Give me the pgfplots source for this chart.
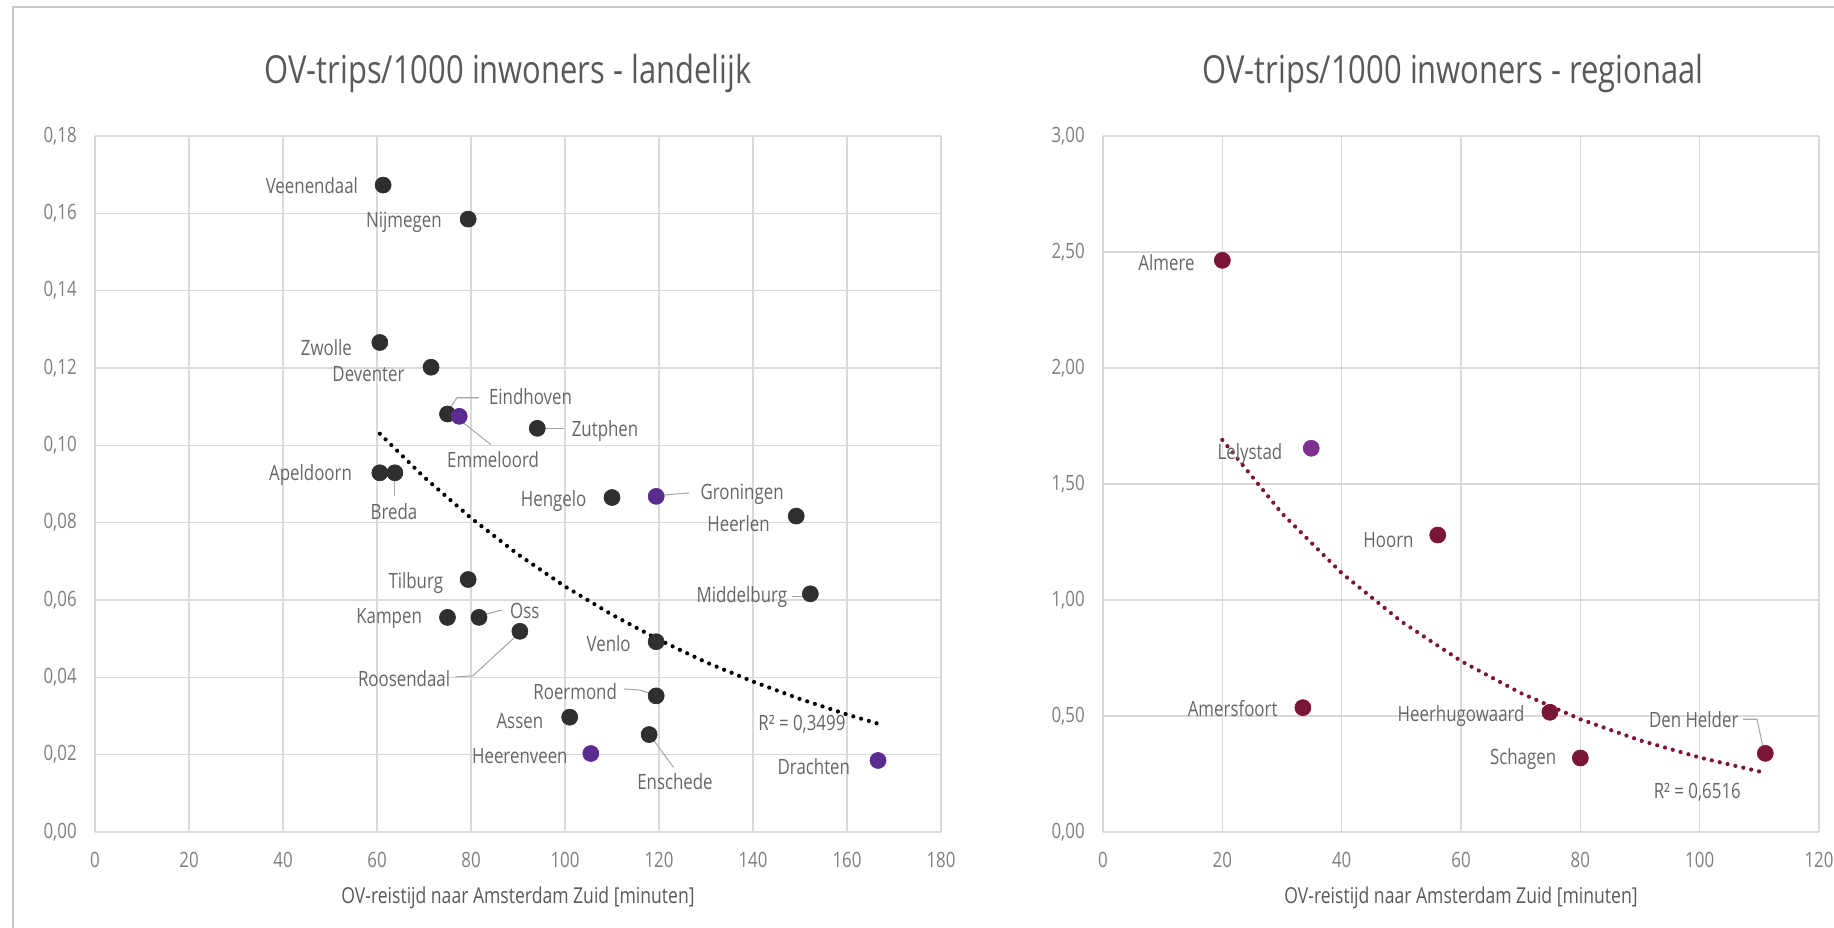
\documentclass[border=0pt]{standalone}
\usepackage{pgfplots}
\pgfplotsset{compat=1.18}
\usepackage{fontspec}
\setmainfont{Open Sans}[FakeStretch=0.8]

\definecolor{txt}{HTML}{595959}
\definecolor{lbltxt}{HTML}{666666}
\definecolor{tick}{HTML}{7F7F7F}
\definecolor{gridc}{HTML}{D9D9D9}
\definecolor{dot}{HTML}{2F2F2F}
\definecolor{paars}{HTML}{5B2C8F}
\definecolor{bord}{HTML}{7B1535}
\definecolor{lila}{HTML}{7E3090}
\definecolor{lead}{HTML}{A6A6A6}

\tikzset{
  lbl/.style={font=\fontsize{12}{14}\selectfont, text=lbltxt, inner sep=1pt},
  leader/.style={draw=lead, line width=0.6pt},
  trend/.style={line width=2.4pt, dash pattern=on 0pt off 4.6pt, line cap=round},
}

\pgfplotsset{
  ovstyle/.style={
    scale only axis, height=13.92cm,
    anchor=south west,
    axis line style={draw=none},
    major tick length=0pt,
    grid=major,
    major grid style={gridc, line width=0.9pt},
    scaled y ticks=false,
    clip=false,
    /pgf/number format/assume math mode=true,
    ticklabel style={font=\fontsize{12}{14}\selectfont, text=tick},
    xticklabel style={anchor=center, yshift=-0.56cm},
    yticklabel style={anchor=east, inner sep=0pt, xshift=-0.36cm,
      /pgf/number format/.cd, fixed, fixed zerofill, precision=2, use comma},
    title style={at={(0.5,1)}, anchor=base, yshift=0.84cm,
      font=\fontsize{22}{26}\selectfont, text=txt},
    xlabel style={at={(0.5,0)}, anchor=center, yshift=-1.32cm,
      font=\fontsize{12.5}{15}\selectfont, text=txt},
  },
}

\begin{document}
\begin{tikzpicture}
\path[use as bounding box] (0,0) rectangle (36.68,18.56);
\draw[gridc!80!gray, line width=0.8pt] (0.26,0) -- (0.26,18.42) -- (36.68,18.42);

% landelijk
\begin{axis}[ovstyle,
  at={(1.90cm,1.92cm)}, width=16.92cm,
  xmin=0, xmax=180, ymin=0, ymax=0.18,
  xtick={0,20,40,60,80,100,120,140,160,180},
  ytick={0,0.02,0.04,0.06,0.08,0.10,0.12,0.14,0.16,0.18},
  title={OV-trips/1000 inwoners - landelijk},
  xlabel={OV-reistijd naar Amsterdam Zuid [minuten]},
  title style={xshift=-0.2cm},
]
% trendlijn (exponentieel)
\addplot[trend, black] coordinates {
  (60.6,0.1030) (70,0.0918) (80,0.0812) (90,0.0718) (100,0.0635)
  (110,0.0562) (120,0.0497) (130,0.0439) (140,0.0389) (150,0.0344)
  (160,0.0304) (166.6,0.0280)};
% steden
\addplot[only marks, mark=*, mark size=0.16cm, dot, mark options={fill=dot, draw=dot}]
coordinates {
  (61.3,0.1673) (79.4,0.1585) (60.6,0.1266) (71.5,0.1202) (75.0,0.1081)
  (94.1,0.1044) (60.6,0.0929) (63.8,0.0929) (110.0,0.0865) (149.2,0.0817)
  (79.4,0.0653) (152.2,0.0616) (75.0,0.0555) (81.7,0.0555) (90.4,0.0519)
  (119.4,0.0492) (119.4,0.0352) (101.0,0.0297) (117.9,0.0252)};
\addplot[only marks, mark=*, mark size=0.16cm, paars, mark options={fill=paars, draw=paars}]
coordinates {(77.5,0.1075) (119.4,0.0868) (105.5,0.0203) (166.6,0.0185)};

\draw[leader] (axis cs:75.5,0.1096) -- (axis cs:77,0.1123) -- (axis cs:81.7,0.1123);
\draw[leader] (axis cs:78,0.1062) -- (axis cs:84.2,0.1002);
\draw[leader] (axis cs:95.6,0.1044) -- (axis cs:99.8,0.1044);
\draw[leader] (axis cs:63.8,0.0920) -- (axis cs:63.8,0.0868);
\draw[leader] (axis cs:120.7,0.0871) -- (axis cs:126.4,0.0877);
\draw[leader] (axis cs:148.2,0.0610) -- (axis cs:150.7,0.0610);
\draw[leader] (axis cs:82.4,0.0561) -- (axis cs:86.6,0.0574);
\draw[leader] (axis cs:76.7,0.0401) -- (axis cs:80.4,0.0404) -- (axis cs:89.6,0.0507);
\draw[leader] (axis cs:112.5,0.0370) -- (axis cs:116,0.0367) -- (axis cs:118.2,0.0358);
\draw[leader] (axis cs:118.7,0.0240) -- (axis cs:123.1,0.0167);

\node[lbl, anchor=east] at (axis cs:56.4,0.1673) {Veenendaal};
\node[lbl, anchor=east] at (axis cs:74.2,0.1578) {Nijmegen};
\node[lbl, anchor=east] at (axis cs:55.1,0.1253) {Zwolle};
\node[lbl, anchor=east] at (axis cs:66.3,0.1184) {Deventer};
\node[lbl, anchor=west] at (axis cs:83.4,0.1126) {Eindhoven};
\node[lbl] at (axis cs:84.7,0.0962) {Emmeloord};
\node[lbl, anchor=west] at (axis cs:101,0.1038) {Zutphen};
\node[lbl, anchor=east] at (axis cs:55.1,0.0923) {Apeldoorn};
\node[lbl] at (axis cs:63.6,0.0829) {Breda};
\node[lbl, anchor=east] at (axis cs:105,0.0856) {Hengelo};
\node[lbl, anchor=west] at (axis cs:128.4,0.0874) {Groningen};
\node[lbl, anchor=east] at (axis cs:144,0.0798) {Heerlen};
\node[lbl, anchor=east] at (axis cs:74.5,0.0643) {Tilburg};
\node[lbl, anchor=east] at (axis cs:147.7,0.0607) {Middelburg};
\node[lbl, anchor=east] at (axis cs:70,0.0552) {Kampen};
\node[lbl, anchor=west] at (axis cs:87.9,0.0571) {Oss};
\node[lbl, anchor=east] at (axis cs:76,0.0398) {Roosendaal};
\node[lbl, anchor=east] at (axis cs:114.4,0.0486) {Venlo};
\node[lbl, anchor=east] at (axis cs:111.5,0.0364) {Roermond};
\node[lbl, anchor=east] at (axis cs:95.8,0.0288) {Assen};
\node[lbl] at (axis cs:123.4,0.0131) {Enschede};
\node[lbl, anchor=east] at (axis cs:101,0.0197) {Heerenveen};
\node[lbl, anchor=east] at (axis cs:161.1,0.0170) {Drachten};
\node[lbl] at (axis cs:150.4,0.0279) {R² = 0,3499};
\end{axis}

% regionaal
\begin{axis}[ovstyle,
  at={(22.06cm,1.92cm)}, width=14.32cm,
  xmin=0, xmax=120, ymin=0, ymax=3,
  xtick={0,20,40,60,80,100,120},
  ytick={0,0.5,1,1.5,2,2.5,3},
  title={OV-trips/1000 inwoners - regionaal},
  xlabel={OV-reistijd naar Amsterdam Zuid [minuten]},
  title style={xshift=-0.16cm},
]
\addplot[trend, bord] coordinates {
  (20,1.690) (30,1.373) (40,1.116) (50,0.907) (60,0.737) (70,0.599)
  (80,0.486) (90,0.395) (100,0.321) (110.5,0.258)};
\addplot[only marks, mark=*, mark size=0.16cm, bord, mark options={fill=bord, draw=bord}]
coordinates {
  (20,2.464) (56.1,1.280) (33.5,0.536) (74.9,0.516) (80,0.319) (111,0.339)};
\addplot[only marks, mark=*, mark size=0.16cm, lila, mark options={fill=lila, draw=lila}]
coordinates {(34.9,1.654)};

\draw[leader] (axis cs:107.3,0.486) -- (axis cs:109.6,0.486) -- (axis cs:110.6,0.369);

\node[lbl, anchor=east] at (axis cs:15.7,2.454) {Almere};
\node[lbl, anchor=east] at (axis cs:30.4,1.629) {Lelystad};
\node[lbl, anchor=east] at (axis cs:52.4,1.260) {Hoorn};
\node[lbl, anchor=east] at (axis cs:29.6,0.531) {Amersfoort};
\node[lbl, anchor=east] at (axis cs:71,0.500) {Heerhugowaard};
\node[lbl, anchor=east] at (axis cs:76.3,0.314) {Schagen};
\node[lbl] at (axis cs:99,0.486) {Den Helder};
\node[lbl] at (axis cs:99.6,0.172) {R² = 0,6516};
\end{axis}
\end{tikzpicture}
\end{document}
